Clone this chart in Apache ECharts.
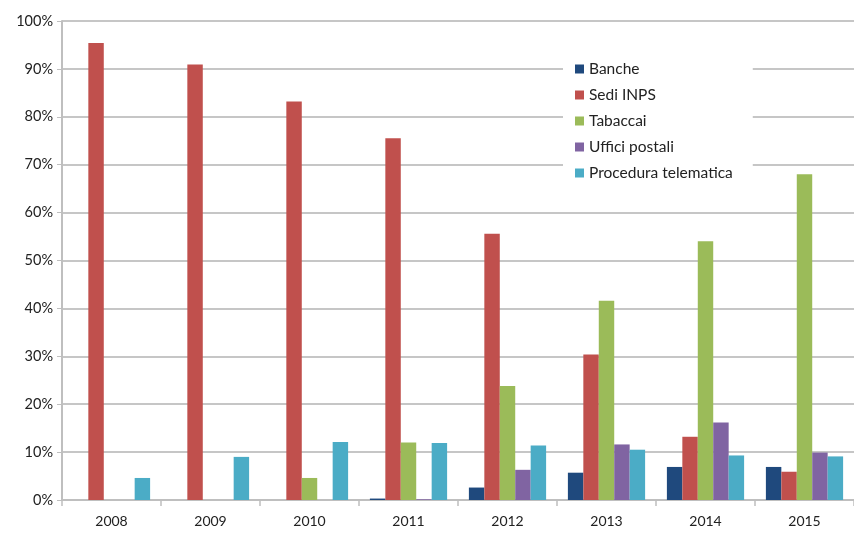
<!DOCTYPE html>
<html><head><meta charset="utf-8">
<script src="https://cdn.jsdelivr.net/npm/echarts@6/dist/echarts.min.js"></script>
<style>html,body{margin:0;padding:0;background:#fff}#c{width:854px;height:536px}</style>
</head><body><div id="c"></div>
<script>
const years = ['2008','2009','2010','2011','2012','2013','2014','2015'];
const banche = [null, null, null, 0.3, 2.6, 5.7, 6.9, 6.9];
const sediInps = [95.4, 90.9, 83.2, 75.5, 55.6, 30.4, 13.2, 5.9];
const tabaccai = [null, null, 4.6, 12.0, 23.8, 41.6, 54.0, 68.0];
const ufficiPostali = [null, null, null, 0.15, 6.3, 11.6, 16.2, 9.9];
const proceduraTelematica = [4.6, 9.0, 12.1, 11.9, 11.4, 10.5, 9.3, 9.1];
const yTicks = [0,10,20,30,40,50,60,70,80,90,100];

const names = ['Banche','Sedi INPS','Tabaccai','Uffici postali','Procedura telematica'];
const colors = ['#1F497D','#C0504D','#9BBB59','#8064A2','#4BACC6'];
const datas = [banche, sediInps, tabaccai, ufficiPostali, proceduraTelematica];
const font = 'Lato, "Open Sans", sans-serif';

const chart = echarts.init(document.getElementById('c'));
chart.setOption({
  animation: false,
  textStyle: {fontFamily: font},
  grid: {left: 62, top: 21, width: 795, height: 479, containLabel: false},
  legend: {
    orient: 'vertical', left: 563, top: 55,
    itemWidth: 9, itemHeight: 9, itemGap: 10,
    backgroundColor: '#fff', padding: [6, 20, 6, 12],
    textStyle: {fontFamily: font, fontSize: 15.5, color: '#222'},
    icon: 'rect',
    data: names
  },
  xAxis: {
    type: 'category', data: years,
    axisLine: {lineStyle: {color: '#BFBFBF', width: 2}},
    axisTick: {show: true, length: 6, lineStyle: {color: '#BFBFBF', width: 1.5}},
    axisLabel: {fontSize: 14, color: '#222', margin: 14, fontFamily: font}
  },
  yAxis: {
    type: 'value', min: 0, max: 100, interval: 10,
    axisLine: {show: true, lineStyle: {color: '#BFBFBF', width: 2}},
    axisTick: {show: true, length: 5, lineStyle: {color: '#BFBFBF'}},
    splitLine: {lineStyle: {color: '#B3B3B3', width: 1.5}},
    axisLabel: {fontSize: 14.5, color: '#222', margin: 9, fontFamily: font,
      formatter: v => yTicks.includes(v) ? v + '%' : ''}
  },
  series: datas.map((d, i) => ({
    name: names[i], type: 'bar', data: d,
    barGap: '0%', barCategoryGap: '22%',
    itemStyle: {color: colors[i]}
  })),
  color: colors
});
</script>
</body></html>
